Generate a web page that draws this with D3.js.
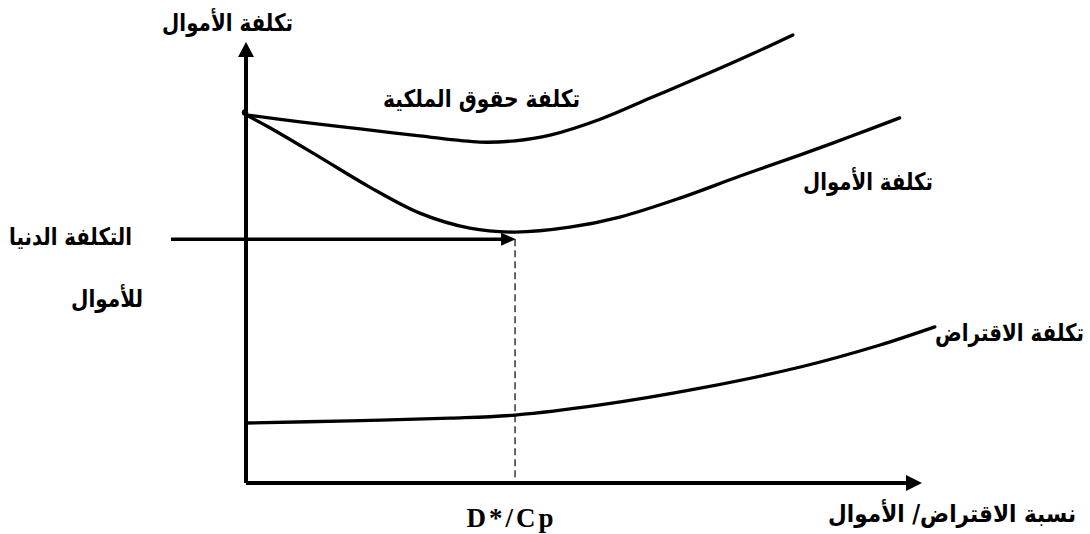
<!DOCTYPE html>
<html>
<head>
<meta charset="utf-8">
<script src="https://cdn.jsdelivr.net/npm/d3@7"></script>
<style>
  body { margin: 0; background: #fff; }
  svg { display: block; }
  .ar { font-family: 'DejaVu Sans', sans-serif; font-weight: bold; fill: #000; }
</style>
</head>
<body>
<svg width="1090" height="534"></svg>
<script>
// curves (x = debt ratio, y = cost, arbitrary units)
const equityX = [0, 0.8, 1.69, 2.57, 3.46, 3.98, 4.5, 5.24, 5.98, 6.72, 7.46, 8.09];
const equityY = [8.35, 8.19, 8.03, 7.87, 7.73, 7.76, 7.89, 8.25, 8.73, 9.21, 9.71, 10.16];

const fundsX = [0, 0.36, 1.09, 1.83, 2.57, 3.31, 3.98, 4.79, 5.53, 6.42, 7.31, 8.2, 8.93, 9.67];
const fundsY = [8.35, 8.05, 7.39, 6.71, 6.12, 5.78, 5.69, 5.8, 6.03, 6.46, 6.96, 7.44, 7.85, 8.28];

const debtX = [0, 1.54, 3.02, 3.98, 5.24, 6.72, 8.2, 9.38, 10.19];
const debtY = [1.36, 1.41, 1.47, 1.54, 1.77, 2.15, 2.63, 3.13, 3.54];

const optimumX = 3.98;
const optimumY = 5.53;
const arrowStartX = -1.11;
const startY = 8.4;

const labels = {
  yTitle: 'تكلفة الأموال',
  xTitle: 'نسبة الاقتراض/ الأموال',
  equity: 'تكلفة حقوق الملكية',
  funds: 'تكلفة الأموال',
  debt: 'تكلفة الاقتراض',
  minA: 'التكلفة الدنيا',
  minB: 'للأموال',
  optimum: 'D*/Cp'
};

const svg = d3.select('svg');

const x = d3.scaleLinear().domain([0, 10]).range([246, 922]);
const y = d3.scaleLinear().domain([0, 10]).range([483, 42]);

const line = d3.line()
  .x(d => x(d[0]))
  .y(d => y(d[1]))
  .curve(d3.curveCatmullRom);

const series = [
  d3.zip(equityX, equityY),
  d3.zip(fundsX, fundsY),
  d3.zip(debtX, debtY)
];

// dashed drop line at the optimum
svg.append('line')
  .attr('x1', x(optimumX)).attr('x2', x(optimumX))
  .attr('y1', y(optimumY)).attr('y2', y(0))
  .attr('stroke', '#000')
  .attr('stroke-width', 1.2)
  .attr('stroke-dasharray', '7,4');

svg.append('g')
  .selectAll('path')
  .data(series)
  .enter()
  .append('path')
  .attr('d', line)
  .attr('fill', 'none')
  .attr('stroke', '#000')
  .attr('stroke-width', 3.3)
  .attr('stroke-linecap', 'round');

// axes
svg.append('path')
  .attr('d', `M${x(0)},${y(0)}V${y(10) + 12}M${x(0)},${y(0)}H${x(10) - 12}`)
  .attr('fill', 'none')
  .attr('stroke', '#000')
  .attr('stroke-width', 4);

const head = (tx, ty, dir, len, half) => {
  // dir: 'up' or 'right'
  if (dir === 'up') return `M${tx},${ty}L${tx - half},${ty + len}L${tx + half},${ty + len}Z`;
  return `M${tx},${ty}L${tx - len},${ty - half}L${tx - len},${ty + half}Z`;
};

svg.append('path').attr('d', head(x(0), y(10), 'up', 15, 8)).attr('fill', '#000');
svg.append('path').attr('d', head(x(10), y(0), 'right', 16, 8)).attr('fill', '#000');

// pointer to the minimum cost
svg.append('line')
  .attr('x1', x(arrowStartX)).attr('x2', x(optimumX) - 12)
  .attr('y1', y(optimumY)).attr('y2', y(optimumY))
  .attr('stroke', '#000')
  .attr('stroke-width', 3.5);
svg.append('path').attr('d', head(x(optimumX) + 1, y(optimumY), 'right', 15, 6.5)).attr('fill', '#000');

svg.append('circle')
  .attr('cx', x(0) - 1).attr('cy', y(startY))
  .attr('r', 3.2)
  .attr('fill', '#000');

// text labels, x is the right edge of each label, w its width
const textData = [
  { t: labels.yTitle, x: 293, y: 31, w: 131 },
  { t: labels.equity, x: 580, y: 107, w: 197 },
  { t: labels.funds, x: 933, y: 190, w: 130 },
  { t: labels.minA, x: 132, y: 245, w: 123 },
  { t: labels.minB, x: 143, y: 307, w: 72 },
  { t: labels.debt, x: 1084, y: 341, w: 149 },
  { t: labels.xTitle, x: 1076, y: 522, w: 248 }
];

const baseSize = 24;

// fit width by shrinking the font, then stretch back vertically
svg.append('g')
  .selectAll('g')
  .data(textData)
  .enter()
  .append('g')
  .each(function (d) {
    const g = d3.select(this);
    const t = g.append('text')
      .attr('class', 'ar')
      .attr('text-anchor', 'end')
      .attr('font-size', baseSize)
      .text(d.t);
    const natural = t.node().getComputedTextLength();
    const k = natural / d.w;
    t.attr('font-size', baseSize / k);
    g.attr('transform', `translate(${d.x},${d.y}) scale(1,${k})`);
  });

svg.append('text')
  .attr('x', x(optimumX) - 5)
  .attr('y', 527)
  .attr('text-anchor', 'middle')
  .attr('font-family', "'Liberation Serif', 'DejaVu Serif', serif")
  .attr('font-weight', 'bold')
  .attr('font-size', 27)
  .attr('textLength', 87)
  .attr('lengthAdjust', 'spacing')
  .text(labels.optimum);
</script>
</body>
</html>
